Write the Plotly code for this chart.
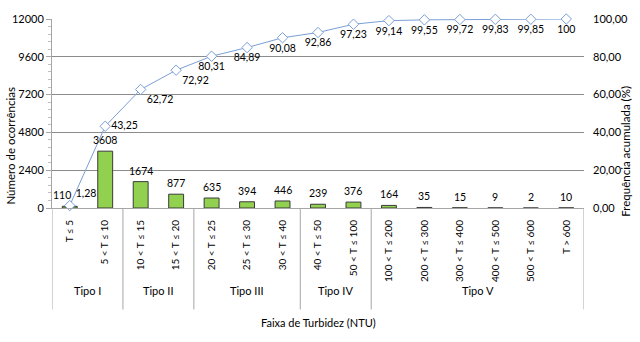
import plotly.graph_objects as go

categories = ["T ≤ 5", "5 < T ≤ 10", "10 < T ≤ 15", "15 < T ≤ 20", "20 < T ≤ 25",
              "25 < T ≤ 30", "30 < T ≤ 40", "40 < T ≤ 50", "50 < T ≤ 100",
              "100 < T ≤ 200", "200 < T ≤ 300", "300 < T ≤ 400", "400 < T ≤ 500",
              "500 < T ≤ 600", "T > 600"]
counts = [110, 3608, 1674, 877, 635, 394, 446, 239, 376, 164, 35, 15, 9, 2, 10]
cum_pct = [1.28, 43.25, 62.72, 72.92, 80.31, 84.89, 90.08, 92.86, 97.23,
           99.14, 99.55, 99.72, 99.83, 99.85, 100]
groups = ["Tipo I", "Tipo II", "Tipo III", "Tipo IV", "Tipo V"]
group_sizes = [2, 2, 3, 2, 6]
left_ticks = [0, 2400, 4800, 7200, 9600, 12000]
right_ticks = [0, 20, 40, 60, 80, 100]

FONT = "Lato"
GRID = "#8c8c8c"
AXIS = "#a6a6a6"
LINE = "#7a9fd6"


def fmt(v):
    s = ("%g" % v) if v == int(v) else ("%.2f" % v)
    return s.replace(".", ",")


cum_pos = ["top right", "middle right", "bottom right", "bottom right"] + ["bottom center"] * 11

fig = go.Figure()
fig.add_trace(go.Bar(
    x=categories, y=counts, width=0.42,
    marker=dict(color="#92d050", line=dict(color="#3a3a3a", width=1)),
    yaxis="y",
))
fig.add_trace(go.Scatter(
    x=categories, y=cum_pct, yaxis="y2", mode="lines+markers+text",
    line=dict(color=LINE, width=1),
    marker=dict(symbol="diamond", size=8, color="white", line=dict(color=LINE, width=1)),
    text=[fmt(v) for v in cum_pct], textposition=cum_pos,
    textfont=dict(family=FONT, size=10.5, color="#000"),
    cliponaxis=False,
))

shapes = []
annotations = []
for i, (c, v) in enumerate(zip(categories, counts)):
    annotations.append(dict(text=str(v), x=c, y=v, xref="x", yref="y", yanchor="bottom",
                            yshift=3, xshift=-8 if i == 0 else 0, showarrow=False,
                            font=dict(family=FONT, size=10.5, color="#000")))
edges = [-0.5]
for s in group_sizes:
    edges.append(edges[-1] + s)
for e in edges:
    shapes.append(dict(type="line", xref="x", yref="paper", x0=e, x1=e, y0=0, y1=-0.537,
                       line=dict(color=AXIS, width=1)))
for g, a, b in zip(groups, edges[:-1], edges[1:]):
    annotations.append(dict(text=g, xref="x", yref="paper", x=(a + b) / 2, y=-0.479,
                            showarrow=False, font=dict(family=FONT, size=11, color="#000")))
annotations.append(dict(text="Faixa de Turbidez (NTU)", xref="paper", yref="paper",
                        x=0.5, y=-0.653, showarrow=False,
                        font=dict(family=FONT, size=11, color="#000")))
annotations.append(dict(text="Número de ocorrências", xref="paper", yref="paper",
                        x=-0.0785, xanchor="center", y=(208 - 145) / 190, yanchor="middle",
                        textangle=-90, showarrow=False,
                        font=dict(family=FONT, size=11.5, color="#000")))
annotations.append(dict(text="Frequência acumulada (%)", xref="paper", yref="paper",
                        x=1 + (631 - 589) / 540, xanchor="center", y=(208 - 151) / 190,
                        yanchor="middle", textangle=-90, showarrow=False,
                        font=dict(family=FONT, size=11.5, color="#000")))

fig.update_layout(
    width=640, height=342, margin=dict(l=49, r=51, t=18, b=134),
    paper_bgcolor="white", plot_bgcolor="white", showlegend=False,
    xaxis=dict(type="category", tickangle=-90, showline=True, linecolor=AXIS,
               ticks="", showgrid=False, tickfont=dict(family=FONT, size=10, color="#000"),
               ticklabelstandoff=7, range=[-0.5, 14.5]),
    yaxis=dict(range=[0, 12000], tickvals=left_ticks, ticktext=[str(t) for t in left_ticks],
               showgrid=True, gridcolor=GRID, gridwidth=1, zeroline=False,
               showline=True, linecolor=AXIS, ticks="outside", ticklen=5, tickcolor=AXIS,
               minor=dict(dtick=480, ticks="outside", ticklen=3, tickcolor="#c0c0c0"),
               tickfont=dict(family=FONT, size=11, color="#000")),
    yaxis2=dict(range=[0, 100], overlaying="y", side="right", tickvals=right_ticks,
                ticktext=[("%.2f" % t).replace(".", ",") for t in right_ticks],
                showgrid=False, zeroline=False, showline=False, ticks="",
                ticklabelstandoff=8,
                tickfont=dict(family=FONT, size=11, color="#000")),
    shapes=shapes, annotations=annotations,
)

fig.write_html("out.html")
